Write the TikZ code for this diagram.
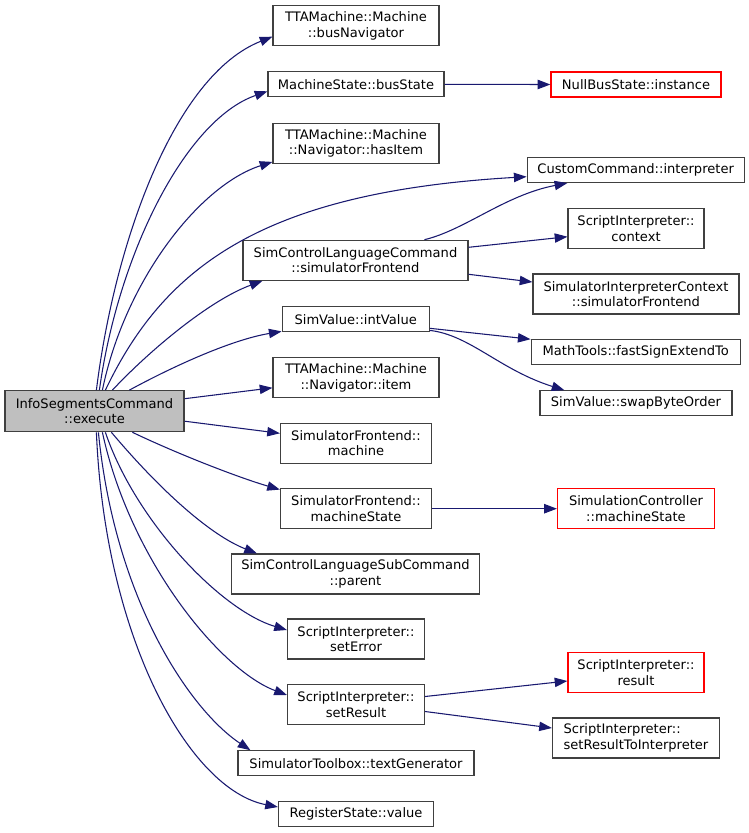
\documentclass[tikz,border=0pt]{standalone}
\usepackage{fontspec}
\setmainfont{DejaVu Sans}
\usetikzlibrary{arrows.meta,calc}
\definecolor{edgec}{HTML}{191970}
\definecolor{boxc}{HTML}{404040}
\definecolor{execfill}{HTML}{BFBFBF}
\begin{document}
\begin{tikzpicture}[x=0.75pt,y=-0.75pt,
 fn/.style={draw=boxc,fill=white,line width=0.9pt,inner sep=0pt,align=center,font=\fontsize{9.8}{11.7}\selectfont},
 fnred/.style={fn,draw=red},
 box/.style 2 args={minimum width=#1*0.75pt,minimum height=#2*0.75pt},
 edge/.style={draw=edgec,line width=0.8pt,-{Triangle[length=9.5pt,width=7pt]}}]
\useasboundingbox (0,0) rectangle (749,833);
\fill[white] (0,0) rectangle (749,833);

\node[fn,box={179}{41},fill=execfill] (exec) at (94.5,411.2) {InfoSegmentsCommand\\::execute};
\node[fn,box={166}{40}] (busnav) at (356,25.7) {TTAMachine::Machine\\::busNavigator};
\node[fn,box={176}{25}] (busstate) at (356,84.3) {MachineState::busState};
\node[fnred,box={170}{25}] (nullbus) at (636,84.5) {NullBusState::instance};
\node[fn,box={166}{40}] (hasitem) at (356,143.3) {TTAMachine::Machine\\::Navigator::hasItem};
\node[fn,box={217}{25}] (custom) at (635.7,170) {CustomCommand::interpreter};
\node[fn,box={225}{40}] (simcmd) at (355.5,260.3) {SimControlLanguageCommand\\::simulatorFrontend};
\node[fn,box={136}{40}] (context) at (636,228.7) {ScriptInterpreter::\\context};
\node[fn,box={206}{40}] (sic) at (636,294) {SimulatorInterpreterContext\\::simulatorFrontend};
\node[fn,box={147}{25}] (intval) at (355.7,319.3) {SimValue::intValue};
\node[fn,box={209}{25}] (fastsign) at (635.7,352.3) {MathTools::fastSignExtendTo};
\node[fn,box={192}{25}] (swap) at (636,403.3) {SimValue::swapByteOrder};
\node[fn,box={166}{40}] (item) at (356,377.8) {TTAMachine::Machine\\::Navigator::item};
\node[fn,box={151}{40}] (machine) at (356,443.3) {SimulatorFrontend::\\machine};
\node[fn,box={151}{40}] (mstate) at (356,508.7) {SimulatorFrontend::\\machineState};
\node[fnred,box={157}{40}] (simctrl) at (636,508.7) {SimulationController\\::machineState};
\node[fn,box={248}{40}] (parent) at (355.5,574) {SimControlLanguageSubCommand\\::parent};
\node[fn,box={137}{40}] (seterror) at (356,639) {ScriptInterpreter::\\setError};
\node[fn,box={137}{40}] (setresult) at (356,704.5) {ScriptInterpreter::\\setResult};
\node[fnred,box={136}{40}] (result) at (636,672.7) {ScriptInterpreter::\\result};
\node[fn,box={167}{40},align=left] (srti) at (636,738) {ScriptInterpreter::\\setResultToInterpreter};
\node[fn,box={236}{25}] (textgen) at (356,763.3) {SimulatorToolbox::textGenerator};
\node[fn,box={155}{25}] (regval) at (356,814) {RegisterState::value};

% edges from exec, upper
\draw[edge] ($(exec.north west)+(92,0)$) .. controls (115,240) and (175,75) .. ($(busnav.west)+(0,11)$);
\draw[edge] ($(exec.north west)+(95,0)$) .. controls (118,255) and (185,120) .. ($(busstate.west)+(0,7)$);
\draw[edge] ($(exec.north west)+(98,0)$) .. controls (125,280) and (200,185) .. ($(hasitem.south west)+(0,-2)$);
\draw[edge] ($(exec.north west)+(101,0)$) .. controls (165,265) and (265,192) .. ($(custom.west)+(0,6.7)$);
\draw[edge] ($(exec.north west)+(108,0)$) .. controls (150,350) and (210,300) .. ($(simcmd.south west)+(20,0)$);
\draw[edge] ($(exec.north west)+(125,0)$) .. controls (170,368) and (230,340) .. ($(intval.south west)+(0,-1)$);
\draw[edge] ($(exec.east)+(0,-12.5)$) -- ($(item.west)+(0,10)$);
\draw[edge] ($(exec.east)+(0,10)$) -- ($(machine.west)+(0,-10)$);
% edges from exec, lower
\draw[edge] ($(exec.south west)+(128,0)$) .. controls (180,455) and (240,478) .. ($(mstate.north west)+(0,1.5)$);
\draw[edge] ($(exec.south west)+(107,0)$) .. controls (160,490) and (210,535) .. ($(parent.north west)+(26,0)$);
\draw[edge] ($(exec.south west)+(101,0)$) .. controls (135,520) and (220,610) .. ($(seterror.west)+(0,-9)$);
\draw[edge] ($(exec.south west)+(98,0)$) .. controls (130,560) and (220,670) .. ($(setresult.west)+(0,-9.5)$);
\draw[edge] ($(exec.south west)+(94,0)$) .. controls (115,600) and (190,710) .. ($(textgen.north west)+(13,0)$);
\draw[edge] ($(exec.south west)+(92,0)$) .. controls (105,640) and (190,790) .. ($(regval.west)+(0,-7)$);
% second level
\draw[edge] (busstate.east) -- (nullbus.west);
\draw[edge] ($(simcmd.north west)+(182,0)$) .. controls (465,230) and (505,195) .. ($(custom.south west)+(40.7,0)$);
\draw[edge] ($(simcmd.east)+(0,-13)$) -- ($(context.west)+(0,8)$);
\draw[edge] ($(simcmd.east)+(0,14)$) -- ($(sic.west)+(0,-12)$);
\draw[edge] ($(intval.east)+(0,9)$) -- (fastsign.north west);
\draw[edge] ($(intval.south east)+(0,-2)$) .. controls (470,335) and (500,370) .. ($(swap.north west)+(25,0)$);
\draw[edge] (mstate.east) -- (simctrl.west);
\draw[edge] ($(setresult.east)+(0,-8)$) -- ($(result.west)+(0,8.3)$);
\draw[edge] ($(setresult.east)+(0,7)$) -- ($(srti.west)+(0,-10)$);
\end{tikzpicture}
\end{document}
